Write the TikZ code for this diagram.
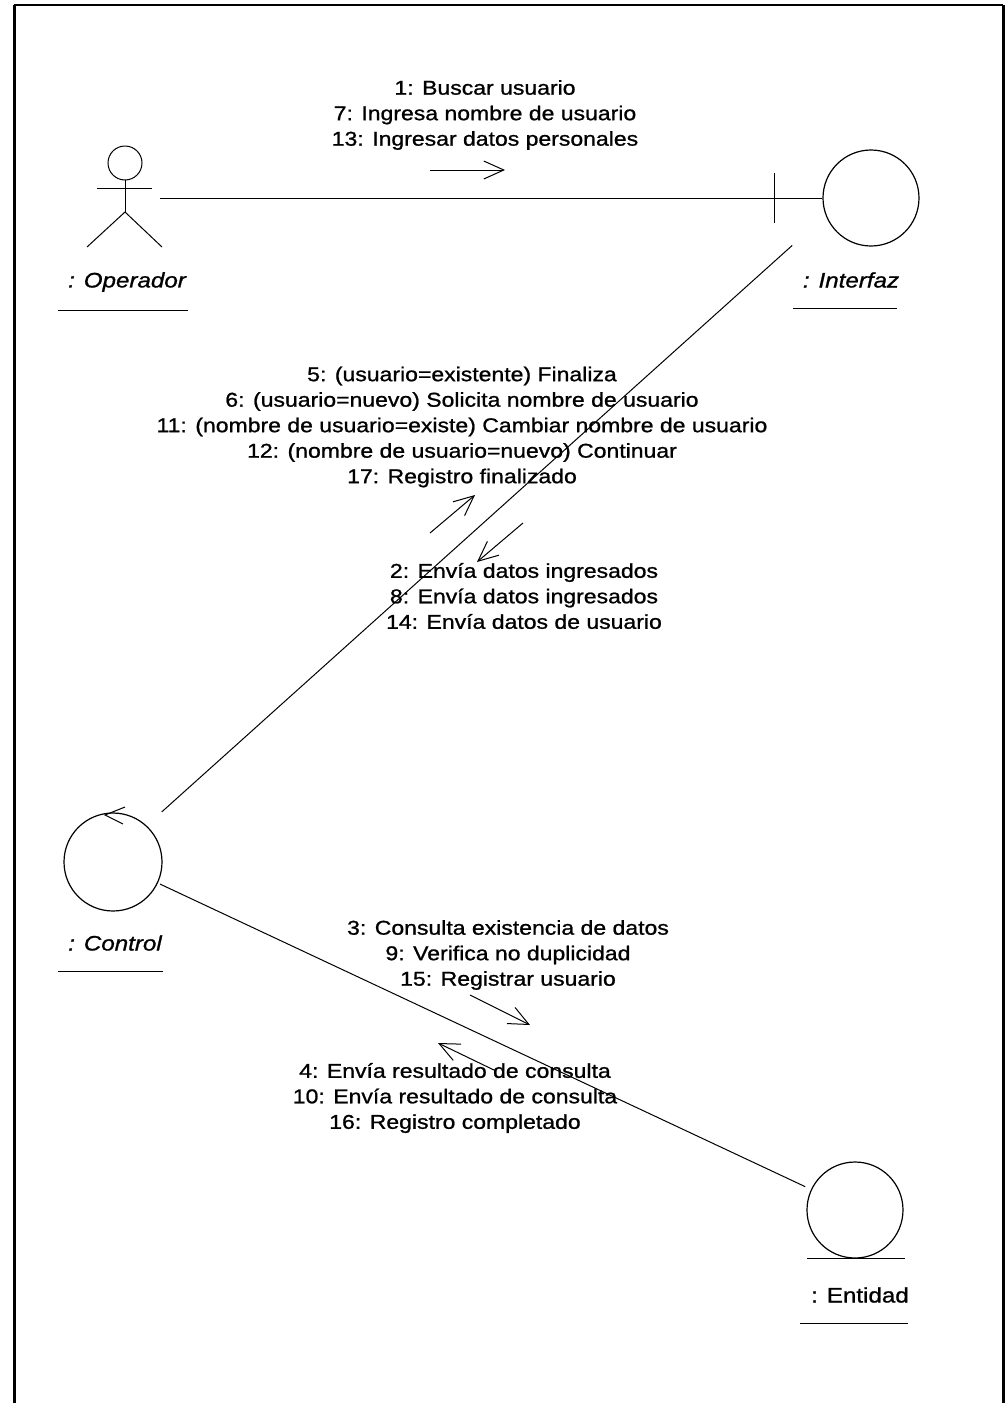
\documentclass[tikz,border=0pt]{standalone}
\usepackage{fontspec}
\setmainfont{Liberation Sans}[FakeStretch=1.15, FakeBold=1]
\usetikzlibrary{arrows.meta}

\begin{document}
\begin{tikzpicture}[x=1pt, y=-1pt,
    obj/.style={draw, circle, line width=1.2pt, minimum size=96pt, inner sep=0pt},
    link/.style={line width=1pt},
    msg/.style={-{Straight Barb[length=20pt, width=18pt, line width=1pt]}, line width=1pt},
    lbl/.style={font=\fontsize{20}{25.5}\selectfont, align=center},
    objname/.style={font=\fontsize{21}{24}\selectfont}
]
    \useasboundingbox (0,0) rectangle (1008,1403);

    % Frame
    \draw[line width=3pt] (14,1403) -- (14,5);
    \draw[line width=1.5pt] (14,5) -- (1003,5);
    \draw[line width=3pt] (1003,5) -- (1003,1403);

    % Operador
    \node[minimum width=70pt, minimum height=102pt, inner sep=0pt] (operador) at (125,198) {};
    \draw[link] (125,163) circle (17pt);
    \draw[link] (125,180) -- (125,212);
    \draw[link] (97,188) -- (152,188);
    \draw[link] (87,247) -- (125,212) -- (162,247);
    \node[objname, font=\fontsize{21}{24}\selectfont\itshape] (operadorlbl) at (127,282) {: Operador};
    \draw[link] (58,310) -- (188,310);

    % Interfaz
    \node[obj] (interfaz) at (871,198) {};
    \draw[link] (774,173) -- (774,223);
    \node[objname, font=\fontsize{21}{24}\selectfont\itshape] (interfazlbl) at (851,280) {: Interfaz};
    \draw[link] (793,308) -- (897,308);

    % Control
    \node[obj, minimum size=98pt] (control) at (113,862) {};
    \draw[link] (125,807) -- (105,815) -- (123,824);
    \node[objname, font=\fontsize{21}{24}\selectfont\itshape] (controllbl) at (115,943) {: Control};
    \draw[link] (58,971) -- (163,971);

    % Entidad
    \node[obj] (entidad) at (855,1210) {};
    \draw[link] (807,1258) -- (905,1258);
    \node[objname] (entidadlbl) at (860,1295) {: Entidad};
    \draw[link] (800,1323) -- (908,1323);

    % Links
    \draw[link] (operador.east) -- (interfaz.west);
    \draw[link, shorten <=75pt, shorten >=71pt] ([xshift=-7pt]control.center) -- ([xshift=-26pt]interfaz.center);
    \draw[link, shorten <=52pt, shorten >=55pt] (control.center) -- (entidad.center);

    % Messages
    \node[lbl] (m1) at (485,115) {1: Buscar usuario\\7: Ingresa nombre de usuario\\13: Ingresar datos personales};
    \draw[msg] (430,170) -- (505,170);

    \node[lbl] (m5) at (462,427) {5: (usuario=existente) Finaliza\\6: (usuario=nuevo) Solicita nombre de usuario\\11: (nombre de usuario=existe) Cambiar nombre de usuario\\12: (nombre de usuario=nuevo) Continuar\\17: Registro finalizado};
    \draw[msg] (430,533) -- (475,495);

    \node[lbl] (m2) at (524,596) {2: Envía datos ingresados\\8: Envía datos ingresados\\14: Envía datos de usuario};
    \draw[msg] (523,523) -- (477,562);

    \node[lbl] (m3) at (508,955) {3: Consulta existencia de datos\\9: Verifica no duplicidad\\15: Registrar usuario};
    \draw[msg] (470,995) -- (530,1025);

    \node[lbl] (m4) at (455,1098) {4: Envía resultado de consulta\\10: Envía resultado de consulta\\16: Registro completado};
    \draw[msg] (496,1071) -- (438,1043);
\end{tikzpicture}
\end{document}
